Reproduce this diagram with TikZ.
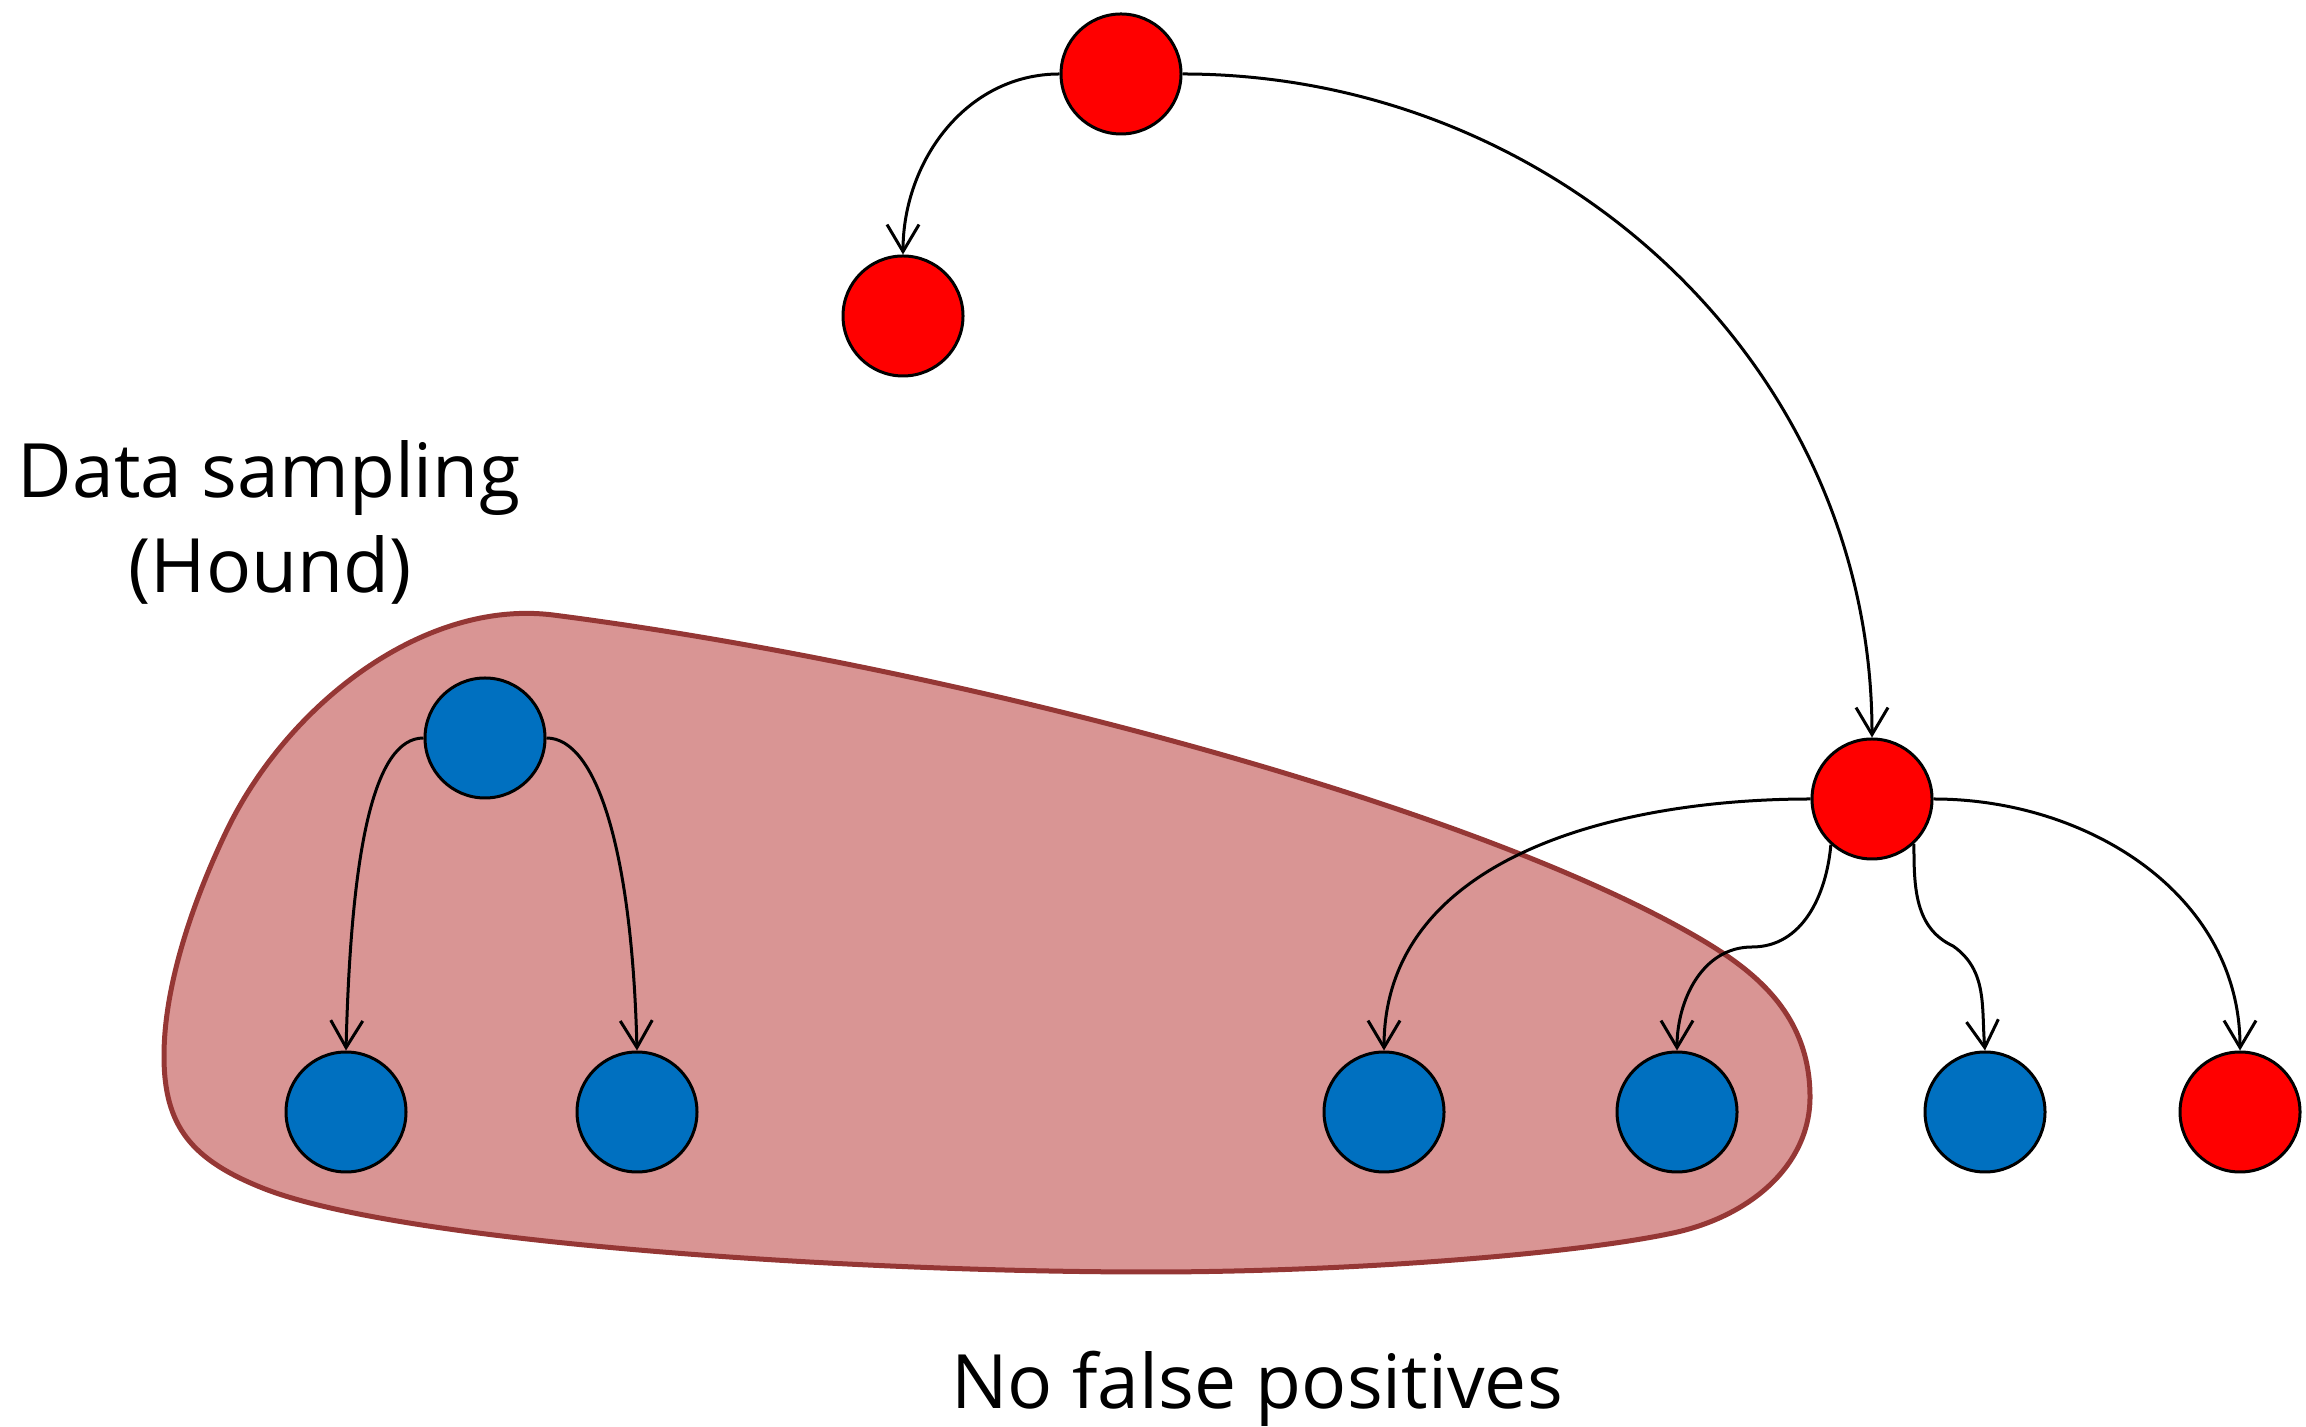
\documentclass[tikz,border=0pt]{standalone}
\usepackage{fontspec}
\setmainfont{Open Sans}
\usetikzlibrary{arrows.meta}
\definecolor{nodered}{RGB}{255,0,0}
\definecolor{nodeblue}{RGB}{0,112,192}
\definecolor{blobfill}{RGB}{217,149,148}
\definecolor{blobline}{RGB}{149,55,53}
\tikzset{
  vert/.style={circle, draw=black, line width=3pt, minimum size=120pt, inner sep=0pt},
  rednode/.style={vert, fill=nodered},
  bluenode/.style={vert, fill=nodeblue},
  conn/.style={draw=black, line width=3pt, -{Straight Barb[length=27pt,width=32pt]}},
  lbl/.style={anchor=base, inner sep=0pt, font=\fontsize{75}{90}\selectfont},
}
\begin{document}
\begin{tikzpicture}[x=1pt,y=1pt]
\useasboundingbox (0,0) rectangle (2306,1426);
% blob
\draw[line width=5pt, draw=blobline, fill=blobfill]
  (553,811) .. controls (950,760) and (1480,620) .. (1707,483)
  .. controls (1758,452) and (1810,409) .. (1810,329)
  .. controls (1810,262) and (1752,210) .. (1673,193)
  .. controls (1575,172) and (1350,154) .. (1150,154)
  .. controls (850,154) and (405,183) .. (265,237)
  .. controls (191,266) and (164,300) .. (164,370)
  .. controls (164,450) and (201,542) .. (227,596)
  .. controls (288,722) and (424,827) .. cycle;
% nodes
\node[rednode] (top) at (1121,1352) {};
\node[rednode] (rl) at (903,1110) {};
\node[rednode] (mr) at (1872,627) {};
\node[bluenode] (bt) at (485,688) {};
\node[bluenode] (b1) at (346,314) {};
\node[bluenode] (b2) at (637,314) {};
\node[bluenode] (b4) at (1384,314) {};
\node[bluenode] (b5) at (1677,314) {};
\node[bluenode] (b6) at (1985,314) {};
\node[rednode] (r7) at (2240,314) {};
\coordinate (k1) at (1752,479);
\coordinate (k2) at (1953,480);
% connectors
\draw[conn] (top.west) to[out=180,in=90] (rl.north);
\draw[conn] (top.east) to[out=0,in=90] (mr.north);
\draw[conn] (bt.west) .. controls +(-50,0) and +(5,200) .. (b1.north);
\draw[conn] (bt.east) .. controls +(50,0) and +(-5,200) .. (b2.north);
\draw[conn] (mr.west) to[out=180,in=90] (b4.north);
\draw[conn] (mr.228) to[out=-95,in=0] (k1) to[out=180,in=90] (b5.north);
\draw[conn] (mr.-47) to[out=-90,in=155] (k2) to[out=-35,in=95] (b6.north);
\draw[conn] (mr.east) to[out=0,in=90] (r7.north);
% labels
\node[lbl] (ds) at (269,928) {Data sampling};
\node[lbl] (hd) at (270,833) {(Hound)};
\node[lbl] (nfp) at (1257,18) {No false positives};
\end{tikzpicture}
\end{document}
